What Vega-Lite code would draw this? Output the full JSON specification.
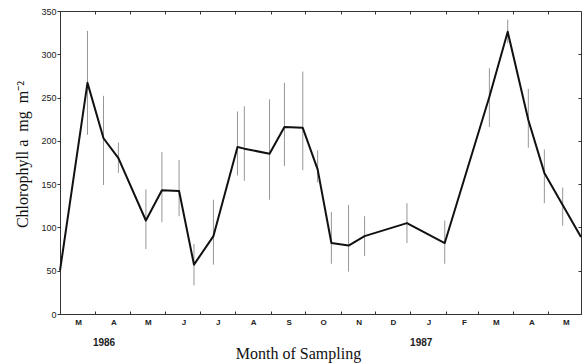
{
  "$schema": "https://vega.github.io/schema/vega-lite/v6.json",
  "width": 521,
  "height": 303,
  "autosize": "none",
  "padding": {"left": 60, "top": 11, "right": 3, "bottom": 50},
  "background": "white",
  "config": {
    "view": {"stroke": "#333", "strokeWidth": 1},
    "axis": {"grid": false, "domainColor": "#333", "tickColor": "#333", "labelColor": "#222", "titleColor": "#111"}
  },
  "data": {
    "values": [
      {"date": "1986-03-01", "v": 50},
      {"date": "1986-03-25", "v": 267, "lo": 207, "hi": 327},
      {"date": "1986-04-08", "v": 203, "lo": 149, "hi": 252},
      {"date": "1986-04-21", "v": 180, "lo": 163, "hi": 198},
      {"date": "1986-05-15", "v": 108, "lo": 75, "hi": 144},
      {"date": "1986-05-29", "v": 143, "lo": 106, "hi": 187},
      {"date": "1986-06-13", "v": 142, "lo": 113, "hi": 178},
      {"date": "1986-06-26", "v": 57, "lo": 33, "hi": 81},
      {"date": "1986-07-13", "v": 90, "lo": 57, "hi": 132},
      {"date": "1986-08-03", "v": 193, "lo": 160, "hi": 234},
      {"date": "1986-08-09", "v": 191, "lo": 154, "hi": 240},
      {"date": "1986-08-31", "v": 185, "lo": 132, "hi": 248},
      {"date": "1986-09-13", "v": 216, "lo": 171, "hi": 267},
      {"date": "1986-09-29", "v": 215, "lo": 166, "hi": 280},
      {"date": "1986-10-12", "v": 167, "lo": 152, "hi": 189},
      {"date": "1986-10-24", "v": 82, "lo": 58, "hi": 118},
      {"date": "1986-11-08", "v": 79, "lo": 49, "hi": 126},
      {"date": "1986-11-22", "v": 90, "lo": 67, "hi": 113},
      {"date": "1986-12-29", "v": 105, "lo": 82, "hi": 128},
      {"date": "1987-01-31", "v": 82, "lo": 58, "hi": 108},
      {"date": "1987-03-11", "v": 251, "lo": 216, "hi": 284},
      {"date": "1987-03-27", "v": 326, "lo": 313, "hi": 340},
      {"date": "1987-04-14", "v": 224, "lo": 192, "hi": 260},
      {"date": "1987-04-28", "v": 163, "lo": 128, "hi": 190},
      {"date": "1987-05-14", "v": 126, "lo": 102, "hi": 146},
      {"date": "1987-05-30", "v": 89}
    ]
  },
  "layer": [
    {
      "transform": [{"filter": "isValid(datum.lo)"}],
      "mark": {"type": "rule", "color": "#8a8a8a", "strokeWidth": 0.9},
      "encoding": {
        "x": {
          "field": "date", "type": "temporal",
          "scale": {"type": "utc", "domain": [{"year": 1986, "month": 3, "date": 1, "utc": true}, {"year": 1987, "month": 5, "date": 30, "utc": true}]},
          "axis": {"orient": "top", "title": null, "labels": false, "domain": false, "tickSize": -3,
            "values": [
              {"year": 1986, "month": 4, "date": 1, "utc": true}, {"year": 1986, "month": 5, "date": 1, "utc": true},
              {"year": 1986, "month": 6, "date": 1, "utc": true}, {"year": 1986, "month": 7, "date": 1, "utc": true},
              {"year": 1986, "month": 8, "date": 1, "utc": true}, {"year": 1986, "month": 9, "date": 1, "utc": true},
              {"year": 1986, "month": 10, "date": 1, "utc": true}, {"year": 1986, "month": 11, "date": 1, "utc": true},
              {"year": 1986, "month": 12, "date": 1, "utc": true}, {"year": 1987, "month": 1, "date": 1, "utc": true},
              {"year": 1987, "month": 2, "date": 1, "utc": true}, {"year": 1987, "month": 3, "date": 1, "utc": true},
              {"year": 1987, "month": 4, "date": 1, "utc": true}, {"year": 1987, "month": 5, "date": 1, "utc": true}
            ]}
        },
        "y": {
          "field": "lo", "type": "quantitative",
          "scale": {"domain": [0, 350], "nice": false},
          "axis": {"orient": "right", "title": null, "labels": false, "domain": false, "tickSize": -3, "values": [50, 100, 150, 200, 250, 300]}
        },
        "y2": {"field": "hi"}
      }
    },
    {
      "mark": {"type": "line", "color": "#111", "strokeWidth": 2, "strokeJoin": "round"},
      "encoding": {
        "x": {
          "field": "date", "type": "temporal",
          "axis": {"orient": "bottom", "title": null, "tickSize": -3, "labelPadding": 7,
            "labelOffset": 18, "labelFlush": false, "labelOverlap": false, "labelBound": false,
            "labelExpr": "upper(slice(utcFormat(datum.value, '%b'), 0, 1))",
            "labelFont": "Liberation Sans", "labelFontWeight": "bold", "labelFontSize": 8,
            "values": [
              {"year": 1986, "month": 3, "date": 1, "utc": true},
              {"year": 1986, "month": 4, "date": 1, "utc": true}, {"year": 1986, "month": 5, "date": 1, "utc": true},
              {"year": 1986, "month": 6, "date": 1, "utc": true}, {"year": 1986, "month": 7, "date": 1, "utc": true},
              {"year": 1986, "month": 8, "date": 1, "utc": true}, {"year": 1986, "month": 9, "date": 1, "utc": true},
              {"year": 1986, "month": 10, "date": 1, "utc": true}, {"year": 1986, "month": 11, "date": 1, "utc": true},
              {"year": 1986, "month": 12, "date": 1, "utc": true}, {"year": 1987, "month": 1, "date": 1, "utc": true},
              {"year": 1987, "month": 2, "date": 1, "utc": true}, {"year": 1987, "month": 3, "date": 1, "utc": true},
              {"year": 1987, "month": 4, "date": 1, "utc": true}, {"year": 1987, "month": 5, "date": 1, "utc": true}
            ]}
        },
        "y": {
          "field": "v", "type": "quantitative",
          "axis": {"orient": "left", "values": [0, 50, 100, 150, 200, 250, 300, 350], "tickSize": 3, "labelPadding": 1,
            "labelFont": "Liberation Sans", "labelFontSize": 9,
            "title": "Chlorophyll a\u00a0\u00a0mg\u00a0\u00a0m⁻²", "titleFont": "Liberation Serif", "titleFontWeight": "normal", "titleFontSize": 16,
            "titleX": -38, "titleY": 143, "titleAngle": -90, "titleBaseline": "middle", "titleAlign": "center"}
        }
      }
    },
    {
      "mark": {"type": "point", "opacity": 0},
      "encoding": {
        "x": {
          "field": "date", "type": "temporal",
          "axis": {"orient": "bottom", "domain": false, "ticks": false, "labelPadding": 23,
            "labelFont": "Liberation Sans", "labelFontWeight": "bold", "labelFontSize": 10,
            "labelOverlap": false, "labelFlush": false, "labelBound": false,
            "labelExpr": "utcFormat(datum.value, '%Y')",
            "values": [{"year": 1986, "month": 4, "date": 8, "utc": true}, {"year": 1987, "month": 1, "date": 10, "utc": true}],
            "title": "Month of Sampling", "titleFont": "Liberation Serif", "titleFontWeight": "normal", "titleFontSize": 16,
            "titleX": 238, "titleY": 39, "titleAlign": "center", "titleBaseline": "middle"}
        },
        "y": {"field": "v", "type": "quantitative", "axis": null}
      }
    }
  ],
  "resolve": {"axis": {"x": "independent", "y": "independent"}}
}
